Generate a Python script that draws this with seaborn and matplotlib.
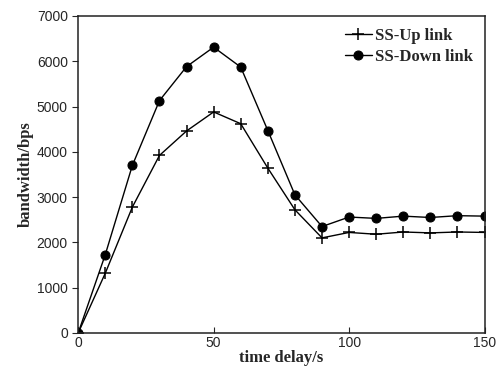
import numpy as np
import pandas as pd
import matplotlib
matplotlib.use("Agg")
import matplotlib.pyplot as plt
import seaborn as sns

# values
delay = [0, 10, 20, 30, 40, 50, 60, 70, 80, 90, 100, 110, 120, 130, 140, 150]
up_link = [0, 1320, 2780, 3920, 4460, 4880, 4620, 3640, 2720, 2100,
           2220, 2180, 2230, 2210, 2230, 2220]
down_link = [0, 1730, 3700, 5130, 5880, 6310, 5870, 4470, 3050, 2350,
             2560, 2530, 2580, 2550, 2590, 2580]

sns.set_style("ticks")

fig = plt.figure(figsize=(4.98, 3.70), dpi=100)
ax = fig.add_axes([0.157, 0.10, 0.816, 0.857])

df = pd.DataFrame({"delay": delay, "up": up_link, "down": down_link})

sns.lineplot(data=df, x="delay", y="up", ax=ax, color="black", lw=1.0,
             marker="+", markersize=9, markeredgewidth=1.1,
             markeredgecolor="black", label="SS-Up link")
sns.lineplot(data=df, x="delay", y="down", ax=ax, color="black", lw=1.0,
             marker="o", markersize=6.5, markeredgecolor="black",
             label="SS-Down link")

ax.set_xlim(0, 150)
ax.set_ylim(0, 7000)
ax.set_xticks([0, 50, 100, 150])
ax.set_yticks(np.arange(0, 7001, 1000))

for s in ax.spines.values():
    s.set_linewidth(1.1)
    s.set_color("#222222")

ax.tick_params(axis="x", direction="in", length=4, labelsize=10, pad=2)
ax.tick_params(axis="y", direction="out", length=4, labelsize=10)
for lab in ax.get_xticklabels() + ax.get_yticklabels():
    lab.set_family("Liberation Sans")

ax.set_xlabel("time delay/s", family="Liberation Serif", fontweight="bold",
              fontsize=12, labelpad=0)
ax.set_ylabel("bandwidth/bps", family="Liberation Serif", fontweight="bold",
              fontsize=12, labelpad=2)

leg = ax.legend(loc="upper right", frameon=False, handlelength=1.6,
                handletextpad=0.2, borderaxespad=0.3, labelspacing=0.3,
                prop={"family": "Liberation Serif", "weight": "bold", "size": 12})

fig.savefig("out.png", dpi=100)
